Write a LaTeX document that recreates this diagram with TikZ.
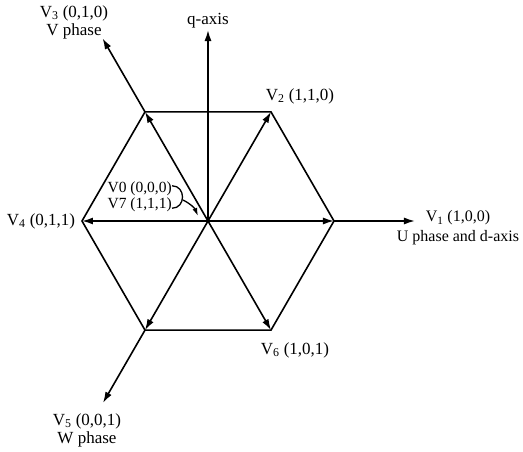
\documentclass[tikz,border=0pt]{standalone}
\usepackage{fontspec}
\setmainfont{Liberation Serif}
\usetikzlibrary{calc, positioning, arrows.meta}

\begin{document}
\begin{tikzpicture}[
		x=1pt, y=1pt,
		font=\fontsize{17}{18}\selectfont,
		hexline/.style={line width=1.6pt, line join=miter},
		vector/.style={-{Latex[length=11pt, width=7pt]}, line width=1.6pt},
		axis/.style={-{Latex[length=11pt, width=7pt]}, line width=1.6pt},
		zerolink/.style={-{Latex[length=8pt, width=5pt]}, line width=1.3pt},
		lbl/.style={inner sep=0pt, align=center}
		]
		
		\useasboundingbox (-208,-230) rectangle (315,221);
		
		% 1. Centre, hexagon corners and axis tips
		\coordinate (O) at (0,0);
		\foreach \n/\ang in {1/0, 2/60, 3/120, 4/180, 5/240, 6/300}
			\coordinate (v\n) at (\ang:126);
		\coordinate (dtip) at (207,0);
		\coordinate (qtip) at (0,191);
		\coordinate (vtip) at (120:211);
		\coordinate (wtip) at (240:210);
		
		% 2. Hexagon
		\draw[hexline] (v1) -- (v2) -- (v3) -- (v4) -- (v5) -- (v6) -- cycle;
		
		% 3. Axes
		\draw[axis] (v1) -- (dtip);
		\draw[axis] (O) -- (qtip);
		\draw[axis] (v3) -- (vtip);
		\draw[axis] (v5) -- (wtip);
		
		% 4. Active voltage vectors
		\foreach \n in {1,...,6}
			\draw[vector] (O) -- (v\n);
		
		% 5. Labels
		\node[lbl] (l3) at (-134,199) {V\textsubscript{3} (0,1,0)\\V phase};
		\node[lbl, above=2pt of qtip] (lq) {q-axis};
		\node[lbl] (l2) at (92,125) {V\textsubscript{2} (1,1,0)};
		\node[lbl, font=\fontsize{16}{17}\selectfont] (l1) at (250,-7) {V\textsubscript{1} (1,0,0)\\[3pt]U phase and d-axis};
		\node[lbl] (l4) at (-167,0) {V\textsubscript{4} (0,1,1)};
		\node[lbl] (l5) at (-121,-209) {V\textsubscript{5} (0,0,1)\\W phase};
		\node[lbl] (l6) at (87,-129) {V\textsubscript{6} (1,0,1)};
		\node[lbl, font=\fontsize{15.5}{16}\selectfont, anchor=east] (l0) at (-36,24) {V0 (0,0,0)\\V7 (1,1,1)};
		
		% Zero vectors point to the centre
		\coordinate (btop) at ($(l0.north east)+(0,-4)$);
		\coordinate (bbot) at ($(l0.south east)+(0,4)$);
		\draw[line width=1.3pt] (btop) .. controls +(14,0) and +(14,0) .. (bbot);
		\draw[zerolink] ($(l0.east)+(11,-3)$) to[bend left=20] ($(O)+(-10,5)$);
		
	\end{tikzpicture}
\end{document}
